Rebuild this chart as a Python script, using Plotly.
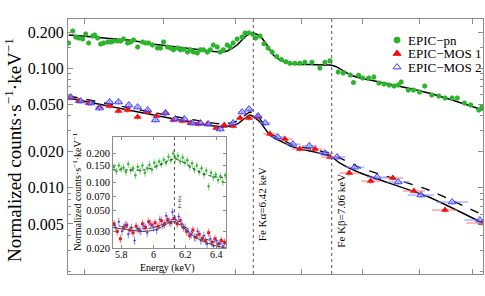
import math
import plotly.graph_objects as go

SERIF = "Liberation Serif, Times New Roman, serif"
GREEN = "#2cb52c"
GREEN_ERR = "#7fd67f"
RED = "#ee1111"
RED_ERR = "#ff7070"
BLUE = "#3a3aff"
BLUE_ERR = "#8a8aff"

# ---------------- main panel data (observed energy, keV) ----------------
pn_energy = [4.903, 4.928, 4.946, 4.964, 4.988, 5.006, 5.024, 5.049, 5.061, 5.079,
             5.098, 5.116, 5.141, 5.160, 5.178, 5.203, 5.222, 5.241, 5.267, 5.286,
             5.305, 5.331, 5.363, 5.383, 5.402, 5.428, 5.461, 5.481, 5.501, 5.528,
             5.548, 5.568, 5.595, 5.615, 5.636, 5.663, 5.683, 5.704, 5.731, 5.752,
             5.773, 5.801, 5.822, 5.843, 5.871, 5.892, 5.914, 5.942, 5.963, 5.985,
             6.014, 6.050, 6.072, 6.101, 6.131, 6.150, 6.183, 6.213, 6.243, 6.275,
             6.310, 6.345, 6.380, 6.411, 6.450, 6.489, 6.528, 6.584, 6.648, 6.689,
             6.730, 6.797, 6.839, 6.898, 6.924, 6.967, 7.001, 7.053, 7.097, 7.141,
             7.185, 7.229, 7.273, 7.309, 7.336, 7.400, 7.446, 7.501, 7.548, 7.613,
             7.679, 7.736, 7.803, 7.852, 7.920, 7.980, 8.059, 8.090]
pn_counts = [0.162, 0.204, 0.182, 0.178, 0.175, 0.193, 0.162, 0.185, 0.189, 0.178,
             0.159, 0.162, 0.165, 0.165, 0.168, 0.168, 0.168, 0.175, 0.162, 0.165,
             0.172, 0.150, 0.165, 0.162, 0.162, 0.156, 0.147, 0.147, 0.165, 0.150,
             0.147, 0.142, 0.147, 0.142, 0.144, 0.136, 0.142, 0.136, 0.134, 0.142,
             0.142, 0.136, 0.142, 0.156, 0.150, 0.136, 0.142, 0.156, 0.150, 0.162,
             0.175, 0.182, 0.196, 0.196, 0.192, 0.178, 0.185, 0.160, 0.147, 0.136,
             0.125, 0.118, 0.113, 0.110, 0.110, 0.110, 0.112, 0.112, 0.100, 0.112,
             0.115, 0.093, 0.091, 0.0875, 0.076, 0.087, 0.0826, 0.0826, 0.0843, 0.075,
             0.0736, 0.0722, 0.0708, 0.0722, 0.0765, 0.0656, 0.0656, 0.0631, 0.0708, 0.0596,
             0.0584, 0.0562, 0.0562, 0.0562, 0.0511, 0.0492, 0.0447, 0.0473]

mos1_energy = [4.916, 4.964, 5.024, 5.091, 5.153, 5.209, 5.267, 5.331, 5.396, 5.455,
               5.514, 5.568, 5.628, 5.683, 5.738, 5.801, 5.864, 5.921, 5.985, 6.036,
               6.101, 6.168, 6.258, 6.372, 6.489, 6.610, 6.730, 6.889, 7.070, 7.262,
               7.450, 7.736, 8.088]
mos1_counts = [0.0562, 0.0531, 0.0511, 0.0473, 0.0482, 0.0438, 0.0447, 0.0391, 0.0430, 0.0398,
               0.0422, 0.0369, 0.0362, 0.0348, 0.0341, 0.0341, 0.0316, 0.0335, 0.0329, 0.0383,
               0.0383, 0.0391, 0.0282, 0.0256, 0.0211, 0.0211, 0.0181, 0.0133, 0.0114, 0.0121,
               0.00942, 0.00653, 0.00509]
mos1_xerr = [0.02, 0.02, 0.02, 0.025, 0.025, 0.025, 0.025, 0.025, 0.025, 0.025,
             0.025, 0.025, 0.025, 0.025, 0.025, 0.025, 0.025, 0.025, 0.025, 0.03,
             0.03, 0.03, 0.05, 0.06, 0.06, 0.06, 0.07, 0.08, 0.08, 0.09,
             0.10, 0.12, 0.15]

mos2_energy = [4.916, 4.976, 5.036, 5.091, 5.153, 5.209, 5.274, 5.331, 5.396, 5.448,
               5.514, 5.581, 5.642, 5.697, 5.752, 5.808, 5.892, 5.985, 6.050, 6.101,
               6.168, 6.221, 6.317, 6.434, 6.563, 6.689, 6.788, 6.935, 7.125, 7.309,
               7.514, 7.803, 8.069]
mos2_counts = [0.0573, 0.0531, 0.0511, 0.0464, 0.0521, 0.0521, 0.0492, 0.0473, 0.0447, 0.0369,
               0.0422, 0.0376, 0.0376, 0.0348, 0.0348, 0.0341, 0.0310, 0.0348, 0.0430, 0.0455,
               0.0398, 0.0348, 0.0266, 0.0232, 0.0224, 0.0195, 0.0181, 0.0149, 0.0123, 0.0112,
               0.00872, 0.00762, 0.00539]
mos2_xerr = [0.02, 0.02, 0.02, 0.025, 0.025, 0.025, 0.025, 0.025, 0.025, 0.025,
             0.025, 0.025, 0.025, 0.025, 0.025, 0.025, 0.025, 0.025, 0.03, 0.03,
             0.03, 0.04, 0.05, 0.06, 0.06, 0.07, 0.07, 0.08, 0.09, 0.10,
             0.12, 0.15, 0.15]

pn_model_energy = [4.904, 5.055, 5.267, 5.481, 5.704, 5.892, 5.942, 6.014, 6.087, 6.131,
                   6.183, 6.236, 6.281, 6.334, 6.438, 6.568, 6.730, 6.788, 6.898, 6.983,
                   7.273, 7.585, 7.891, 8.097]
pn_model_counts = [0.1888, 0.1817, 0.1715, 0.1558, 0.1443, 0.1362, 0.1390, 0.1560, 0.1890, 0.1960,
                   0.1850, 0.1560, 0.1290, 0.1170, 0.1080, 0.1070, 0.1060, 0.1020, 0.0875, 0.0826,
                   0.0722, 0.0619, 0.0511, 0.0447]

mos1_model_energy = [4.904, 5.914, 6.014, 6.064, 6.110, 6.183, 6.258, 6.438, 6.730, 6.812,
                     6.983, 7.585, 8.097]
mos1_model_counts = [0.0562, 0.0322, 0.0341, 0.0376, 0.0406, 0.0355, 0.0276, 0.0219, 0.0185, 0.0161,
                     0.0133, 0.00839, 0.00509]
mos2_model_energy = [4.904, 5.914, 6.014, 6.064, 6.110, 6.183, 6.258, 6.438, 6.730, 6.812,
                     6.983, 7.585, 8.097]
mos2_model_counts = [0.0585, 0.0341, 0.0362, 0.0398, 0.0430, 0.0376, 0.0287, 0.0228, 0.0195, 0.0178,
                     0.0147, 0.0096, 0.00594]

line_energies = [6.133, 6.744]
line_labels = ["Fe K\u03b1=6.42 keV", "Fe K\u03b2=7.06 keV"]

main_x_ticks = [5.0, 5.5, 6.0, 6.5, 7.0, 7.5, 8.0]
main_y_ticks = [0.005, 0.01, 0.02, 0.05, 0.1, 0.2]
main_y_ticktext = ["0.005", "0.010", "0.020", "0.050", "0.100", "0.200"]
main_y_minor = [0.002, 0.003, 0.004, 0.006, 0.007, 0.008, 0.009, 0.03, 0.04,
                0.06, 0.07, 0.08, 0.09, 0.15]

legend_names = ["EPIC\u2212pn", "EPIC\u2212MOS 1", "EPIC\u2212MOS 2"]

# ---------------- inset data ----------------
in_pn_energy = [5.750, 5.765, 5.780, 5.795, 5.810, 5.825, 5.840, 5.855, 5.870, 5.885,
                5.900, 5.915, 5.930, 5.945, 5.960, 5.975, 5.990, 6.005, 6.020, 6.035,
                6.050, 6.065, 6.080, 6.095, 6.110, 6.125, 6.140, 6.155, 6.170, 6.185,
                6.200, 6.215, 6.230, 6.245, 6.260, 6.275, 6.290, 6.305, 6.320, 6.335,
                6.350, 6.365, 6.380, 6.395, 6.410, 6.425, 6.440, 6.455]
in_pn_counts = [0.145, 0.130, 0.150, 0.138, 0.142, 0.128, 0.155, 0.133, 0.140, 0.118,
                0.145, 0.132, 0.150, 0.125, 0.140, 0.152, 0.135, 0.160, 0.148, 0.165,
                0.155, 0.172, 0.160, 0.185, 0.170, 0.200, 0.178, 0.190, 0.165, 0.182,
                0.160, 0.170, 0.145, 0.158, 0.135, 0.150, 0.128, 0.140, 0.120, 0.132,
                0.090, 0.125, 0.112, 0.120, 0.105, 0.115, 0.100, 0.118]
in_mos1_energy = [5.75, 5.77, 5.79, 5.81, 5.83, 5.85, 5.87, 5.89, 5.91, 5.93,
                  5.95, 5.97, 5.99, 6.01, 6.03, 6.05, 6.07, 6.09, 6.11, 6.13,
                  6.15, 6.17, 6.19, 6.21, 6.23, 6.25, 6.27, 6.29, 6.31, 6.33,
                  6.35, 6.37, 6.39, 6.41, 6.43, 6.45]
in_mos1_counts = [0.036, 0.030, 0.025, 0.033, 0.035, 0.031, 0.029, 0.034, 0.031, 0.036,
                  0.033, 0.038, 0.035, 0.037, 0.034, 0.039, 0.036, 0.040, 0.037, 0.041,
                  0.036, 0.039, 0.033, 0.030, 0.027, 0.031, 0.026, 0.028, 0.025, 0.024,
                  0.029, 0.023, 0.025, 0.022, 0.024, 0.023]
in_mos2_energy = [5.76, 5.78, 5.80, 5.82, 5.84, 5.86, 5.88, 5.90, 5.92, 5.94,
                  5.96, 5.98, 6.00, 6.02, 6.04, 6.06, 6.08, 6.10, 6.12, 6.14,
                  6.16, 6.18, 6.20, 6.22, 6.24, 6.26, 6.28, 6.30, 6.32, 6.34,
                  6.36, 6.38, 6.40, 6.42, 6.44]
in_mos2_counts = [0.033, 0.038, 0.030, 0.035, 0.028, 0.033, 0.024, 0.032, 0.030, 0.034,
                  0.029, 0.036, 0.033, 0.031, 0.040, 0.035, 0.044, 0.038, 0.048, 0.040,
                  0.043, 0.036, 0.033, 0.030, 0.028, 0.026, 0.030, 0.024, 0.027, 0.022,
                  0.025, 0.021, 0.024, 0.022, 0.021]
in_pn_model_energy = [5.74, 5.85, 5.95, 6.03, 6.10, 6.13, 6.17, 6.25, 6.33, 6.40, 6.46]
in_pn_model_counts = [0.135, 0.134, 0.135, 0.148, 0.170, 0.175, 0.168, 0.140, 0.120, 0.113, 0.111]
in_mos_model_energy = [5.74, 5.85, 5.95, 6.03, 6.10, 6.13, 6.17, 6.25, 6.33, 6.40, 6.46]
in_mos1_model_counts = [0.033, 0.031, 0.030, 0.032, 0.037, 0.038, 0.035, 0.027, 0.023, 0.021, 0.020]
in_mos2_model_counts = [0.035, 0.033, 0.032, 0.034, 0.039, 0.040, 0.037, 0.029, 0.025, 0.023, 0.022]

in_x_ticks = [5.8, 6.0, 6.2, 6.4]
in_x_ticktext = ["5.8", "6", "6.2", "6.4"]
in_y_ticks = [0.02, 0.03, 0.05, 0.07, 0.1, 0.15, 0.2]
in_y_ticktext = ["0.020", "0.030", "0.050", "0.070", "0.100", "0.150", "0.200"]

# ---------------- figure ----------------
fig = go.Figure()

# main models
fig.add_trace(go.Scatter(x=pn_model_energy, y=pn_model_counts, mode="lines",
                         line=dict(color="black", width=1.5, shape="spline", smoothing=0.6),
                         showlegend=False, hoverinfo="skip"))
fig.add_trace(go.Scatter(x=mos2_model_energy, y=mos2_model_counts, mode="lines",
                         line=dict(color="black", width=1.4, dash="dash", shape="spline", smoothing=0.5),
                         showlegend=False, hoverinfo="skip"))
fig.add_trace(go.Scatter(x=mos1_model_energy, y=mos1_model_counts, mode="lines",
                         line=dict(color="black", width=1.5, shape="spline", smoothing=0.5),
                         showlegend=False, hoverinfo="skip"))

# main data
fig.add_trace(go.Scatter(x=pn_energy, y=pn_counts, mode="markers",
                         marker=dict(symbol="circle", size=5, color=GREEN),
                         error_y=dict(type="percent", value=5, color=GREEN_ERR, thickness=1, width=0),
                         showlegend=False))
fig.add_trace(go.Scatter(x=mos1_energy, y=mos1_counts, mode="markers",
                         marker=dict(symbol="triangle-up", size=7, color=RED),
                         error_x=dict(type="data", array=mos1_xerr, color=RED_ERR, thickness=1, width=0),
                         error_y=dict(type="percent", value=5, color=RED_ERR, thickness=1, width=0),
                         showlegend=False))
fig.add_trace(go.Scatter(x=mos2_energy, y=mos2_counts, mode="markers",
                         marker=dict(symbol="triangle-up-open", size=7, color=BLUE, line=dict(width=1, color=BLUE)),
                         error_x=dict(type="data", array=mos2_xerr, color=BLUE_ERR, thickness=1, width=0),
                         error_y=dict(type="percent", value=5, color=BLUE_ERR, thickness=1, width=0),
                         showlegend=False))

# inset
fig.add_trace(go.Scatter(x=in_pn_energy, y=in_pn_counts, mode="markers", xaxis="x2", yaxis="y2",
                         marker=dict(symbol="circle", size=2.5, color=GREEN),
                         error_y=dict(type="percent", value=9, color=GREEN_ERR, thickness=1, width=0),
                         showlegend=False))
fig.add_trace(go.Scatter(x=in_mos1_energy, y=in_mos1_counts, mode="markers", xaxis="x2", yaxis="y2",
                         marker=dict(symbol="square", size=3, color=RED),
                         error_y=dict(type="percent", value=10, color=RED_ERR, thickness=1, width=0),
                         error_x=dict(type="constant", value=0.008, color=RED_ERR, thickness=1, width=0),
                         showlegend=False))
fig.add_trace(go.Scatter(x=in_mos2_energy, y=in_mos2_counts, mode="markers", xaxis="x2", yaxis="y2",
                         marker=dict(symbol="circle", size=2, color=BLUE),
                         error_y=dict(type="percent", value=10, color=BLUE_ERR, thickness=1, width=0),
                         error_x=dict(type="constant", value=0.008, color=BLUE_ERR, thickness=1, width=0),
                         showlegend=False))
fig.add_trace(go.Scatter(x=in_mos_model_energy, y=in_mos1_model_counts, mode="lines", xaxis="x2", yaxis="y2",
                         line=dict(color="#444444", width=1, shape="spline"), showlegend=False))
fig.add_trace(go.Scatter(x=in_mos_model_energy, y=in_mos2_model_counts, mode="lines", xaxis="x2", yaxis="y2",
                         line=dict(color="#444444", width=1, dash="dot", shape="spline"), showlegend=False))
fig.add_trace(go.Scatter(x=in_pn_model_energy, y=in_pn_model_counts, mode="lines", xaxis="x2", yaxis="y2",
                         line=dict(color="#333333", width=1, dash="dot", shape="spline"), showlegend=False))

# manual legend (own hidden axes)
legend_x = [0.078, 0.078, 0.078]
legend_y = [0.833, 0.512, 0.19]
legend_symbols = ["circle", "triangle-up", "triangle-up-open"]
legend_colors = [GREEN, RED, BLUE]
legend_sizes = [6, 7, 7]
legend_text_paper_x = 0.815
legend_text_paper_y = [0.917, 0.864, 0.811]
for i in range(3):
    fig.add_trace(go.Scatter(x=[legend_x[i]], y=[legend_y[i]], mode="markers", xaxis="x3", yaxis="y3",
                             marker=dict(symbol=legend_symbols[i], size=legend_sizes[i], color=legend_colors[i],
                                         line=dict(width=1, color=legend_colors[i])),
                             showlegend=False, hoverinfo="skip"))
    fig.add_annotation(x=legend_text_paper_x, y=legend_text_paper_y[i], xref="paper", yref="paper",
                       text=legend_names[i], showarrow=False, xanchor="left", yanchor="middle",
                       font=dict(family=SERIF, size=13, color="black"))

axis_line = "#8c8c8c"
fig.update_layout(
    width=485, height=296,
    margin=dict(l=68, r=2, t=19, b=22),
    paper_bgcolor="white", plot_bgcolor="white",
    font=dict(family=SERIF, color="black"),
    xaxis=dict(type="log", range=[0.6902, 0.9085], showline=True, linecolor=axis_line, linewidth=1,
               mirror="ticks", ticks="inside", ticklen=5, tickcolor=axis_line,
               tickvals=main_x_ticks, showticklabels=False, showgrid=False, zeroline=False),
    yaxis=dict(type="log", range=[-2.719, -0.590], showline=True, linecolor=axis_line, linewidth=1,
               mirror="ticks", ticks="inside", ticklen=5, tickcolor=axis_line,
               tickvals=main_y_ticks, ticktext=main_y_ticktext, showgrid=False, zeroline=False,
               tickfont=dict(family=SERIF, size=16, color="black"),
               minor=dict(tickvals=main_y_minor, ticks="inside", ticklen=3, tickcolor=axis_line, showgrid=False)),
    xaxis2=dict(domain=[0.1084, 0.3807], anchor="y2", range=[5.743, 6.46], showline=True,
                linecolor=axis_line, linewidth=1, mirror="ticks", ticks="inside", ticklen=3,
                tickcolor=axis_line, tickvals=in_x_ticks, showticklabels=False, showgrid=False,
                zeroline=False),
    yaxis2=dict(domain=[0.102, 0.537], anchor="x2", type="log", range=[-1.699, -0.524], showline=True,
                linecolor=axis_line, linewidth=1, mirror="ticks", ticks="inside", ticklen=3,
                tickcolor=axis_line, tickvals=in_y_ticks, ticktext=in_y_ticktext, showgrid=False,
                zeroline=False, tickfont=dict(family=SERIF, size=10.5, color="black")),
    xaxis3=dict(domain=[0.776, 0.993], anchor="y3", range=[0, 1], visible=False, fixedrange=True),
    yaxis3=dict(domain=[0.780, 0.945], anchor="x3", range=[0, 1], visible=False, fixedrange=True),
)

# inset x tick labels (placed as text just under the inset frame)
for tv, tt in zip(in_x_ticks, in_x_ticktext):
    fig.add_annotation(x=tv, y=0.075, xref="x2", yref="paper", text=tt, showarrow=False,
                       xanchor="center", yanchor="middle", font=dict(family=SERIF, size=10, color="black"))

# emission line markers
label_bottoms = [0.122, 0.094]
for e, lab, yb in zip(line_energies, line_labels, label_bottoms):
    fig.add_shape(type="line", x0=e, x1=e, y0=0, y1=1, xref="x", yref="paper",
                  line=dict(color="#555555", width=1, dash="dot"))
    fig.add_annotation(x=math.log10(e), y=yb, xref="x", yref="paper", text=lab,
                       textangle=-90, showarrow=False, xanchor="left", yanchor="bottom", xshift=1,
                       font=dict(family=SERIF, size=11, color="black"))
fig.add_shape(type="line", x0=line_energies[0], x1=line_energies[0], y0=0, y1=1, xref="x2", yref="y2 domain",
              line=dict(color="#555555", width=1, dash="dot"))
fig.add_annotation(x=line_energies[0], y=0.42, xref="x2", yref="y2 domain", text="Fe K\u03b1",
                   textangle=-90, showarrow=False, xanchor="left", yanchor="middle", xshift=0,
                   font=dict(family=SERIF, size=5, color="black"))

# titles
fig.add_annotation(x=-0.1325, y=0.486, xref="paper", yref="paper",
                   text="Normalized counts\u00b7s<sup>\u22121</sup>\u00b7keV<sup>\u22121</sup>",
                   textangle=-90, showarrow=False, xanchor="center", yanchor="middle",
                   font=dict(family=SERIF, size=19, color="black"))
fig.add_annotation(x=0.0215, y=0.322, xref="paper", yref="paper",
                   text="Normalized counts\u00b7s<sup>\u22121</sup>\u00b7keV<sup>\u22121</sup>",
                   textangle=-90, showarrow=False, xanchor="center", yanchor="middle",
                   font=dict(family=SERIF, size=10, color="black"))
fig.add_annotation(x=0.2400, y=0.022, xref="paper", yref="paper", text="Energy (keV)",
                   showarrow=False, xanchor="center", yanchor="middle",
                   font=dict(family=SERIF, size=10, color="black"))

fig.write_html("out.html", post_script="document.body.style.margin='0';",
               config={"displayModeBar": False})
